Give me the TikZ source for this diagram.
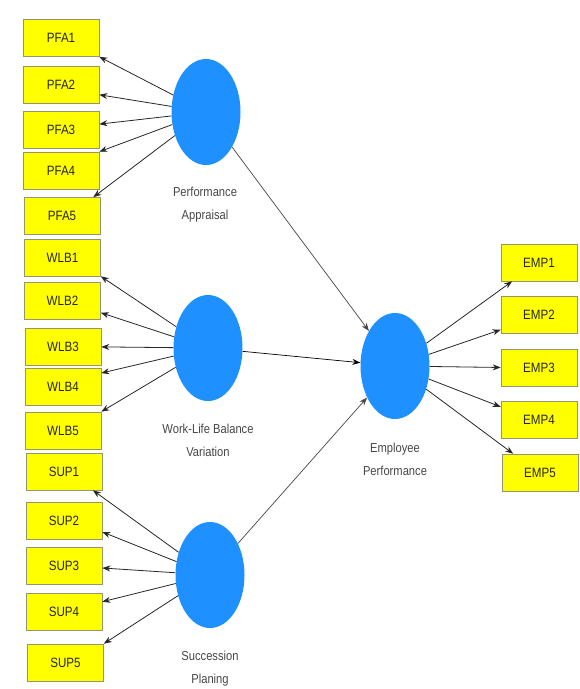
\documentclass[tikz,border=0pt]{standalone}
\usepackage{fontspec}
\setmainfont[FakeStretch=0.86]{Liberation Sans}
\usepackage{tikz}
\usetikzlibrary{arrows.meta,shapes.geometric}
\definecolor{latblue}{RGB}{30,144,255}
\definecolor{indyellow}{RGB}{255,255,0}
\definecolor{indline}{RGB}{150,150,110}
\definecolor{labgray}{RGB}{70,70,70}

\begin{document}
\begin{tikzpicture}[x=1pt,y=-1pt,
    ind/.style={rectangle,draw=indline,line width=0.6pt,fill=indyellow,text=black!85,
      minimum width=76pt,minimum height=37pt,inner sep=0pt,font=\fontsize{13.5}{15}\selectfont},
    lat/.style={ellipse,fill=latblue,minimum width=69pt,minimum height=106pt,inner sep=0pt},
    latlab/.style={align=center,text=labgray,font=\fontsize{13}{23}\selectfont}]
    \useasboundingbox (0,0) rectangle (580,689);

    \node[ind] (pfa1) at (61,38) {PFA1};
    \node[ind] (pfa2) at (61,84.5) {PFA2};
    \node[ind] (pfa3) at (61,129.5) {PFA3};
    \node[ind] (pfa4) at (61,170.5) {PFA4};
    \node[ind] (pfa5) at (62,216) {PFA5};
    \node[ind] (wlb1) at (62.5,257.5) {WLB1};
    \node[ind] (wlb2) at (62.5,301) {WLB2};
    \node[ind] (wlb3) at (63,346.5) {WLB3};
    \node[ind] (wlb4) at (63,387) {WLB4};
    \node[ind] (wlb5) at (63,430.5) {WLB5};
    \node[ind] (sup1) at (64,471.5) {SUP1};
    \node[ind] (sup2) at (64,521) {SUP2};
    \node[ind] (sup3) at (64,565.5) {SUP3};
    \node[ind] (sup4) at (64,612) {SUP4};
    \node[ind] (sup5) at (65.5,662.5) {SUP5};
    \node[ind] (emp1) at (539,262.5) {EMP1};
    \node[ind] (emp2) at (539,315) {EMP2};
    \node[ind] (emp3) at (539,368) {EMP3};
    \node[ind] (emp4) at (539,420) {EMP4};
    \node[ind] (emp5) at (540,472.5) {EMP5};

    \node[lat] (pa) at (206,112) {};
    \node[lat] (wlb) at (208,348) {};
    \node[lat] (sp) at (210,575) {};
    \node[lat] (ep) at (395,366) {};

    \node[latlab] (palab) at (205,204.5) {Performance\\Appraisal};
    \node[latlab] (wlblab) at (208,440.5) {Work-Life Balance\\Variation};
    \node[latlab] (splab) at (210,668.5) {Succession\\Planing};
    \node[latlab] (eplab) at (395,459.5) {Employee\\Performance};

    % outer loadings
    \path[-{Stealth[length=8pt,width=6pt]},black!85,line width=0.8pt]
    (pa) edge (pfa1.south east)
    (pa) edge (pfa2.-15)
    (pa) edge (pfa3.8)
    (pa) edge (pfa4.north east)
    (pa) edge (pfa5.31)
    (wlb) edge (wlb1.south east)
    (wlb) edge (wlb2.-17)
    (wlb) edge (wlb3)
    (wlb) edge (wlb4.20)
    (wlb) edge (wlb5.north east)
    (sp) edge (sup1.-33)
    (sp) edge (sup2.-16)
    (sp) edge (sup3)
    (sp) edge (sup4.15)
    (sp) edge (sup5.north east)
    (ep) edge (emp1.215)
    (ep) edge (emp2.201)
    (ep) edge (emp3)
    (ep) edge (emp4.161)
    (ep) edge (emp5.145)
    ;

    % inner model
    \path[-{Stealth[length=8pt,width=6pt]},labgray,line width=0.7pt]
    (pa) edge (ep)
    (wlb) edge [black] (ep)
    (sp) edge (ep)
    ;
  \end{tikzpicture}
\end{document}
